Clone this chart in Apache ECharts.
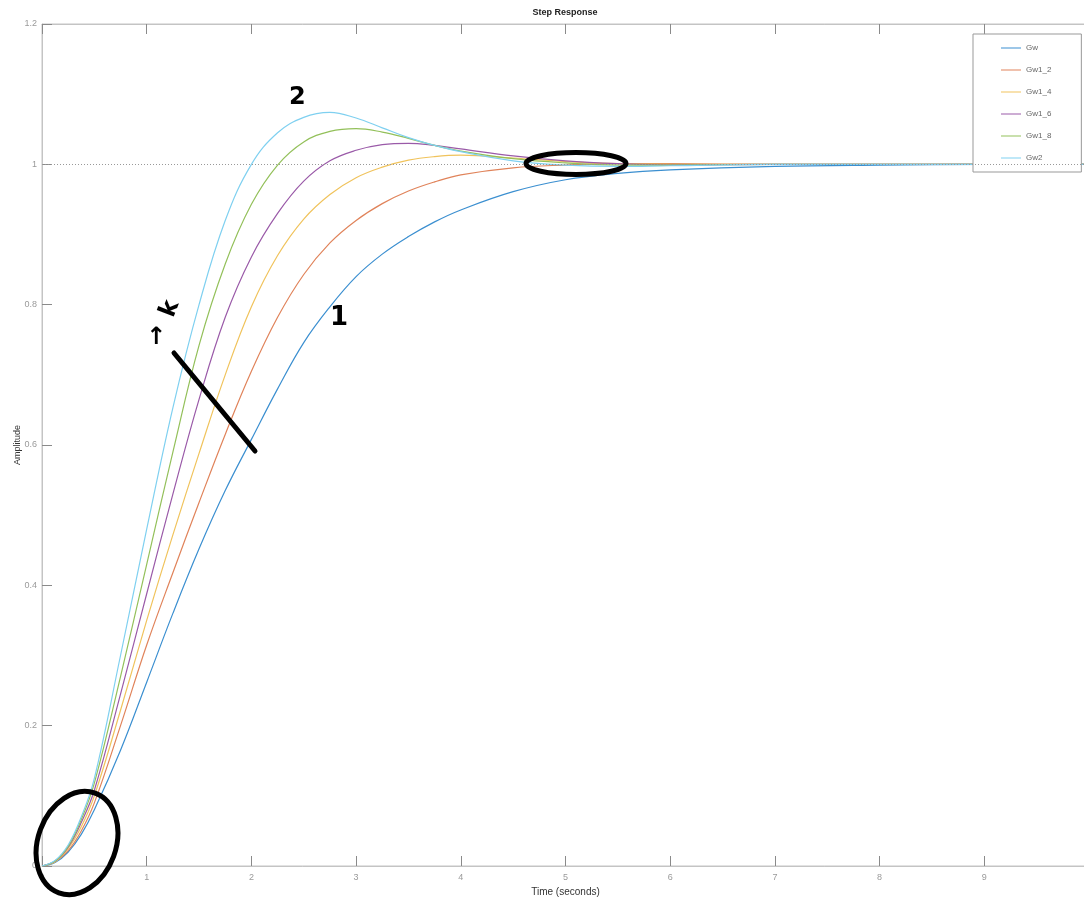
<!DOCTYPE html>
<html>
<head>
<meta charset="utf-8">
<title>Step Response</title>
<script src="https://cdn.jsdelivr.net/npm/echarts@6/dist/echarts.min.js"></script>
<style>
  html, body { margin: 0; padding: 0; background: #fff; }
  #main { width: 1084px; height: 899px; }
</style>
</head>
<body>
<div id="main"></div>
<script>
// time axis (s) and step responses
const time = [0, 0.125, 0.25, 0.375, 0.5, 0.75, 1, 1.25, 1.5, 1.75, 2, 2.25, 2.5, 2.75, 3, 3.25, 3.5, 3.75, 4, 4.5, 5, 5.5, 6, 7, 8, 9, 10];
const gw    = [0, 0.005, 0.02, 0.045, 0.08, 0.165, 0.262, 0.36, 0.452, 0.535, 0.608, 0.68, 0.746, 0.797, 0.84, 0.872, 0.897, 0.918, 0.935, 0.961, 0.978, 0.987, 0.992, 0.997, 0.999, 1, 1];
const gw1_2 = [0, 0.006, 0.022, 0.05, 0.09, 0.2, 0.315, 0.418, 0.518, 0.615, 0.705, 0.782, 0.843, 0.888, 0.92, 0.944, 0.962, 0.975, 0.985, 0.995, 0.999, 1.001, 1.001, 1, 1, 1, 1];
const gw1_4 = [0, 0.006, 0.025, 0.056, 0.1, 0.222, 0.35, 0.472, 0.588, 0.7, 0.797, 0.87, 0.922, 0.957, 0.981, 0.996, 1.006, 1.011, 1.013, 1.009, 1.004, 1.001, 1, 1, 1, 1, 1];
const gw1_6 = [0, 0.007, 0.027, 0.062, 0.108, 0.245, 0.388, 0.53, 0.665, 0.782, 0.868, 0.93, 0.976, 1.005, 1.02, 1.028, 1.03, 1.027, 1.022, 1.012, 1.005, 1.001, 0.999, 1, 1, 1, 1];
const gw1_8 = [0, 0.007, 0.028, 0.066, 0.118, 0.27, 0.43, 0.59, 0.742, 0.858, 0.943, 0.999, 1.032, 1.047, 1.051, 1.046, 1.037, 1.027, 1.019, 1.008, 1.002, 0.999, 0.999, 1, 1, 1, 1];
const gw2   = [0, 0.008, 0.03, 0.07, 0.125, 0.3, 0.48, 0.653, 0.8, 0.92, 1.0, 1.045, 1.067, 1.074, 1.066, 1.052, 1.038, 1.027, 1.018, 1.005, 0.999, 0.997, 0.998, 1, 1, 1, 1];

const names = ['Gw', 'Gw1_2', 'Gw1_4', 'Gw1_6', 'Gw1_8', 'Gw2'];
const values = [gw, gw1_2, gw1_4, gw1_6, gw1_8, gw2];
const colors = ['#3b8fd0', '#e0835a', '#f0c35c', '#9a5aa8', '#93c05a', '#7fd0f0'];

const axisGray = '#c4c4c4';
const labelGray = '#9a9a9a';

var myChart = echarts.init(document.getElementById('main'));

const series = names.map((n, i) => ({
  name: n,
  type: 'line',
  symbol: 'none',
  smooth: 0.4,
  lineStyle: { width: 1.2, color: colors[i] },
  itemStyle: { color: colors[i] },
  data: time.map((t, j) => [t, values[i][j]]),
  z: 3
}));

// dotted steady-state line at 1
series[0].markLine = {
  silent: true,
  symbol: 'none',
  label: { show: false },
  lineStyle: { type: [1, 2], color: '#999', width: 1 },
  data: [{ yAxis: 1 }]
};

const ink = { stroke: '#000', lineWidth: 5, fill: null, lineCap: 'round', lineJoin: 'round' };

let option = {
  backgroundColor: '#fff',
  animation: false,
  color: colors,
  grid: {
    left: 42, top: 24, width: 1047, bottom: 33,
    outerBoundsMode: 'none',
    show: true, borderColor: axisGray, borderWidth: 1, backgroundColor: '#fff'
  },
  legend: {
    data: names,
    orient: 'vertical',
    left: 973, top: 34,
    icon: 'rect',
    itemWidth: 20, itemHeight: 1, itemGap: 12,
    padding: [9, 30, 9, 28],
    backgroundColor: '#fff',
    borderColor: '#999', borderWidth: 1,
    textStyle: { fontSize: 8, lineHeight: 10, color: '#666', fontFamily: 'Liberation Sans' }
  },
  xAxis: [
    {
      type: 'value', min: 0, max: 10, interval: 1,
      name: 'Time (seconds)', nameLocation: 'middle', nameGap: 17,
      nameTextStyle: { fontSize: 10, color: '#333', fontFamily: 'Liberation Sans' },
      axisLine: { show: true, lineStyle: { color: axisGray } },
      axisTick: { show: true, inside: true, length: 10, lineStyle: { color: '#8a8a8a' } },
      axisLabel: { fontSize: 9, color: labelGray, margin: 7, fontFamily: 'Liberation Sans' },
      splitLine: { show: false }
    },
    {
      type: 'value', min: 0, max: 10, interval: 1, position: 'top',
      axisLine: { show: true, lineStyle: { color: axisGray } },
      axisTick: { show: true, inside: true, length: 10, lineStyle: { color: '#8a8a8a' } },
      axisLabel: { show: false },
      splitLine: { show: false }
    }
  ],
  yAxis: {
    type: 'value', min: 0, max: 1.2, interval: 0.2,
    name: 'Amplitude', nameLocation: 'middle', nameGap: 20,
    nameMoveOverlap: false,
    nameTextStyle: { fontSize: 9, color: '#333', fontFamily: 'Liberation Sans' },
    axisLine: { show: true, lineStyle: { color: axisGray } },
    axisTick: { show: true, inside: true, length: 10, lineStyle: { color: '#8a8a8a' } },
    axisLabel: { fontSize: 9, color: labelGray, margin: 5, fontFamily: 'Liberation Sans' },
    splitLine: { show: false }
  },
  graphic: [
    {
      type: 'text', x: 565, y: 8,
      style: { text: 'Step Response', font: 'bold 9px Liberation Sans', fill: '#222', textAlign: 'center' }
    },
    // hand-drawn annotations
    { type: 'ellipse', x: 77, y: 843, rotation: -0.35, shape: { cx: 0, cy: 0, rx: 39, ry: 53 }, style: ink, z: 10 },
    { type: 'ellipse', x: 576, y: 163.5, shape: { cx: 0, cy: 0, rx: 50, ry: 11 }, style: ink, z: 10 },
    { type: 'line', shape: { x1: 174, y1: 353, x2: 255, y2: 451 }, style: ink, z: 10 },
    { type: 'text', x: 289, y: 86, style: { text: '2', font: 'bold 24px DejaVu Sans', fill: '#000' }, z: 10 },
    { type: 'text', x: 330, y: 305, style: { text: '1', font: 'bold 26px DejaVu Sans', fill: '#000' }, z: 10 },
    { type: 'text', x: 156, y: 312, rotation: 1.2, style: { text: 'k', font: 'bold 24px DejaVu Sans', fill: '#000' }, z: 10 },
    { type: 'text', x: 146, y: 326, style: { text: '↑', font: 'bold 24px DejaVu Sans', fill: '#000' }, z: 10 }
  ],
  series: series
};

myChart.setOption(option);
</script>
</body>
</html>
